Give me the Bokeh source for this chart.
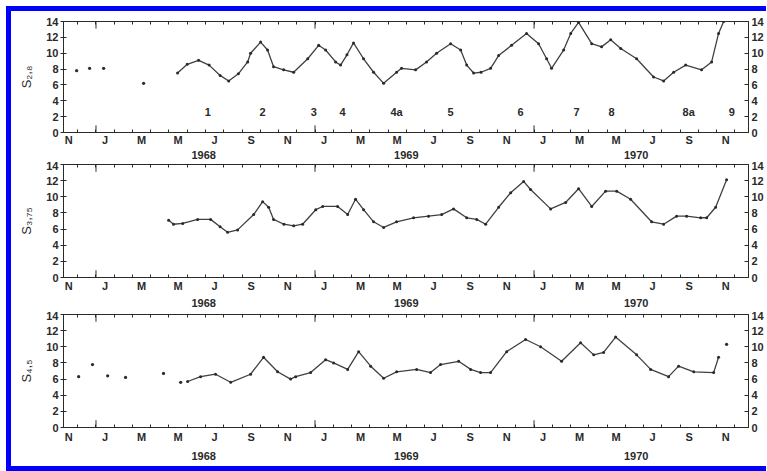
from bokeh.plotting import figure
from bokeh.models import LinearAxis, FixedTicker, Range1d, ColumnDataSource, Spacer
from bokeh.layouts import column, row
from bokeh.embed import file_html
from bokeh.resources import INLINE
from bokeh.core.properties import value

# ---- time axis: months since 1 Nov 1967 ----
month_letters = ["N", "J", "M", "M", "J", "S", "N", "J", "M", "M", "J", "S",
                 "N", "J", "M", "M", "J", "S", "N"]
month_label_pos = [0.5 + 2 * i for i in range(19)]
month_bounds = list(range(1, 38))
year_bounds = [2, 14, 26]
year_labels = ["1968", "1969", "1970"]
year_label_pos = [7.9, 19.0, 31.6]
y_ticks = [0, 2, 4, 6, 8, 10, 12, 14]

# ---- panel 1: S 2,8 ----
s28_iso_t = [0.94, 1.65, 2.42, 4.61]
s28_iso_v = [7.8, 8.1, 8.1, 6.2]
s28_t = [6.47, 7.0, 7.62, 8.2, 8.8, 9.27, 9.8, 10.31, 10.47, 11.02, 11.40, 11.73, 12.28,
         12.83, 13.60, 14.20, 14.58, 15.13, 15.40, 15.75, 16.11, 16.66, 17.21, 17.76,
         18.47, 18.74, 19.51, 20.11, 20.66, 21.43, 21.98, 22.31, 22.69, 23.1, 23.62,
         24.06, 24.77, 25.59, 26.25, 26.69, 26.96, 27.62, 28.01, 28.44, 29.16, 29.70,
         30.20, 30.75, 31.62, 32.55, 33.10, 33.65, 34.31, 35.18, 35.73, 36.11, 36.39]
s28_v = [7.5, 8.6, 9.1, 8.5, 7.2, 6.5, 7.4, 8.9, 10.0, 11.4, 10.4, 8.3, 7.9,
         7.6, 9.3, 11.0, 10.4, 8.9, 8.5, 9.8, 11.3, 9.3, 7.6, 6.2,
         7.6, 8.1, 7.9, 8.9, 10.0, 11.2, 10.4, 8.5, 7.5, 7.6, 8.1,
         9.7, 11.0, 12.5, 11.2, 9.3, 8.1, 10.4, 12.5, 13.9, 11.2, 10.8,
         11.7, 10.6, 9.3, 7.0, 6.5, 7.6, 8.5, 7.9, 8.9, 12.5, 14.0]
event_labels = ["1", "2", "3", "4", "4a", "5", "6", "7", "8", "8a", "9"]
event_t = [8.12, 11.13, 13.93, 15.51, 18.47, 21.43, 25.26, 28.33, 30.25, 34.47, 36.83]
event_v = [2.6] * 11

# ---- panel 2: S 3,75 ----
s375_t = [5.98, 6.25, 6.75, 7.57, 8.28, 8.8, 9.21, 9.76, 10.64, 11.13, 11.46, 11.73,
          12.3, 12.83, 13.32, 14.04, 14.42, 15.24, 15.79, 16.22, 16.66, 17.21, 17.76,
          18.47, 19.40, 20.22, 20.94, 21.59, 22.31, 22.86, 23.35, 24.06, 24.72,
          25.43, 25.81, 26.91, 27.73, 28.44, 29.16, 29.92, 30.53, 31.29, 32.44,
          33.10, 33.81, 34.36, 35.13, 35.46, 35.95, 36.55]
s375_v = [7.1, 6.6, 6.7, 7.2, 7.2, 6.3, 5.6, 5.9, 7.8, 9.4, 8.7, 7.2,
          6.6, 6.4, 6.6, 8.4, 8.8, 8.8, 7.8, 9.7, 8.4, 6.9, 6.2,
          6.9, 7.4, 7.6, 7.8, 8.5, 7.4, 7.2, 6.6, 8.7, 10.5,
          11.9, 10.9, 8.5, 9.3, 11.0, 8.8, 10.7, 10.7, 9.7, 6.9,
          6.6, 7.6, 7.6, 7.4, 7.4, 8.7, 12.1]

# ---- panel 3: S 4,5 ----
s45_iso_t = [1.05, 1.81, 2.64, 3.62, 5.70, 6.64, 36.55]
s45_iso_v = [6.3, 7.8, 6.4, 6.2, 6.7, 5.6, 10.3]
s45_t = [7.02, 7.73, 8.55, 9.38, 10.47, 11.18, 11.95, 12.66, 12.94, 13.76, 14.58,
         15.02, 15.79, 16.39, 17.05, 17.76, 18.47, 19.57, 20.33, 20.88, 21.87,
         22.53, 23.07, 23.62, 24.50, 25.54, 26.36, 27.51, 28.55, 29.27, 29.81,
         30.47, 31.62, 32.39, 33.37, 33.92, 34.75, 35.84, 36.11]
s45_v = [5.7, 6.3, 6.6, 5.6, 6.6, 8.7, 6.9, 6.0, 6.3, 6.8, 8.4,
         8.0, 7.2, 9.4, 7.6, 6.1, 6.9, 7.2, 6.8, 7.8, 8.2,
         7.2, 6.8, 6.8, 9.4, 10.9, 10.0, 8.2, 10.5, 9.0, 9.3,
         11.2, 9.0, 7.2, 6.3, 7.6, 6.9, 6.8, 8.7]

INK = "#2a2a2a"
LINE = "#404040"
FONT = "Liberation Sans"
BLUE = "#0000ff"


def make_panel(height, top, bottom, ylabel, month_standoff, year_standoff):
    p = figure(width=755, height=height, output_backend="svg", toolbar_location=None,
               x_range=Range1d(0.22, 37.75), y_range=Range1d(0, 14),
               x_axis_location=None, y_axis_location=None,
               min_border_left=52, min_border_right=18,
               min_border_top=top, min_border_bottom=bottom)
    p.grid.visible = False
    p.outline_line_color = INK
    p.outline_line_width = 1
    p.background_fill_color = "white"
    p.border_fill_color = "white"

    la = LinearAxis(ticker=FixedTicker(ticks=y_ticks, minor_ticks=[]),
                    axis_label=ylabel)
    ra = LinearAxis(ticker=FixedTicker(ticks=y_ticks, minor_ticks=[]))
    for ax, out, inn, so in ((la, 3, 3, 2), (ra, 0, 4, 3)):
        ax.major_tick_out = out
        ax.major_tick_in = inn
        ax.major_label_standoff = so
        ax.axis_line_color = INK
        ax.major_tick_line_color = INK
        ax.major_label_text_color = INK
        ax.major_label_text_font = FONT
        ax.major_label_text_font_size = "11px"
        ax.major_label_text_font_style = "bold"
    la.axis_label_standoff = 9
    la.axis_label_text_font = FONT
    la.axis_label_text_font_size = "13px"
    la.axis_label_text_font_style = "normal"
    la.axis_label_text_color = INK
    p.add_layout(la, "left")
    p.add_layout(ra, "right")

    ba = LinearAxis(ticker=FixedTicker(ticks=month_label_pos, minor_ticks=month_bounds))
    ba.major_label_overrides = {pos: lab for pos, lab in zip(month_label_pos, month_letters)}
    ba.major_tick_in = 0
    ba.major_tick_out = 0
    ba.minor_tick_in = 3
    ba.minor_tick_out = 0
    ba.major_label_standoff = month_standoff
    ba.axis_line_color = INK
    ba.minor_tick_line_color = INK
    ba.major_label_text_color = INK
    ba.major_label_text_font = FONT
    ba.major_label_text_font_size = "11px"
    ba.major_label_text_font_style = "bold"
    p.add_layout(ba, "below")

    ya = LinearAxis(ticker=FixedTicker(ticks=year_label_pos, minor_ticks=[]))
    ya.major_label_overrides = {pos: lab for pos, lab in zip(year_label_pos, year_labels)}
    ya.axis_line_color = None
    ya.major_tick_line_color = None
    ya.minor_tick_line_color = None
    ya.major_tick_in = 0
    ya.major_tick_out = 0
    ya.major_label_standoff = year_standoff
    ya.major_label_text_color = INK
    ya.major_label_text_font = FONT
    ya.major_label_text_font_size = "11px"
    ya.major_label_text_font_style = "bold"
    p.add_layout(ya, "below")

    ta = LinearAxis(ticker=FixedTicker(ticks=[], minor_ticks=month_bounds))
    ta.major_tick_in = 0
    ta.major_tick_out = 0
    ta.minor_tick_in = 3
    ta.minor_tick_out = 0
    ta.major_label_standoff = 0
    ta.axis_line_color = INK
    ta.minor_tick_line_color = INK
    p.add_layout(ta, "above")

    p.segment(x0=year_bounds, y0=[0] * 3, x1=year_bounds, y1=[0.9] * 3,
              line_color=INK, line_width=1)
    p.segment(x0=year_bounds, y0=[14] * 3, x1=year_bounds, y1=[13.1] * 3,
              line_color=INK, line_width=1)
    return p


def draw_series(p, t, v):
    src = ColumnDataSource(dict(t=t, v=v))
    p.line("t", "v", source=src, line_color=LINE, line_width=1.3, line_join="round")
    p.scatter("t", "v", source=src, size=3.0, fill_color=INK, line_color=None)


def draw_points(p, t, v):
    src = ColumnDataSource(dict(t=t, v=v))
    p.scatter("t", "v", source=src, size=3.2, fill_color=INK, line_color=None)


p1 = make_panel(150, 10, 29, "S₂,₈", 1, 2)
draw_points(p1, s28_iso_t, s28_iso_v)
draw_series(p1, s28_t, s28_v)
p1.text(x=event_t, y=event_v, text=event_labels, text_align="center",
        text_baseline="middle", text_font=value(FONT), text_font_size="11px",
        text_font_style="bold", text_color=INK)

p2 = make_panel(150, 3, 34, "S₃,₇₅", 2, 4)
draw_series(p2, s375_t, s375_v)

p3 = make_panel(155, 3, 39, "S₄,₅", 3, 6)
draw_points(p3, s45_iso_t, s45_iso_v)
draw_series(p3, s45_t, s45_v)

top_bar = Spacer(width=755, height=5, styles={"background-color": BLUE})
bottom_bar = Spacer(width=755, height=5, styles={"background-color": BLUE})
left_bar = Spacer(width=5, height=465, styles={"background-color": BLUE})

panels = column(top_bar, p1, p2, p3, bottom_bar, spacing=0)
layout = row(left_bar, panels, spacing=0,
             styles={"margin-left": "6px", "margin-top": "6px"})

open("out.html", "w").write(file_html(layout, INLINE))
